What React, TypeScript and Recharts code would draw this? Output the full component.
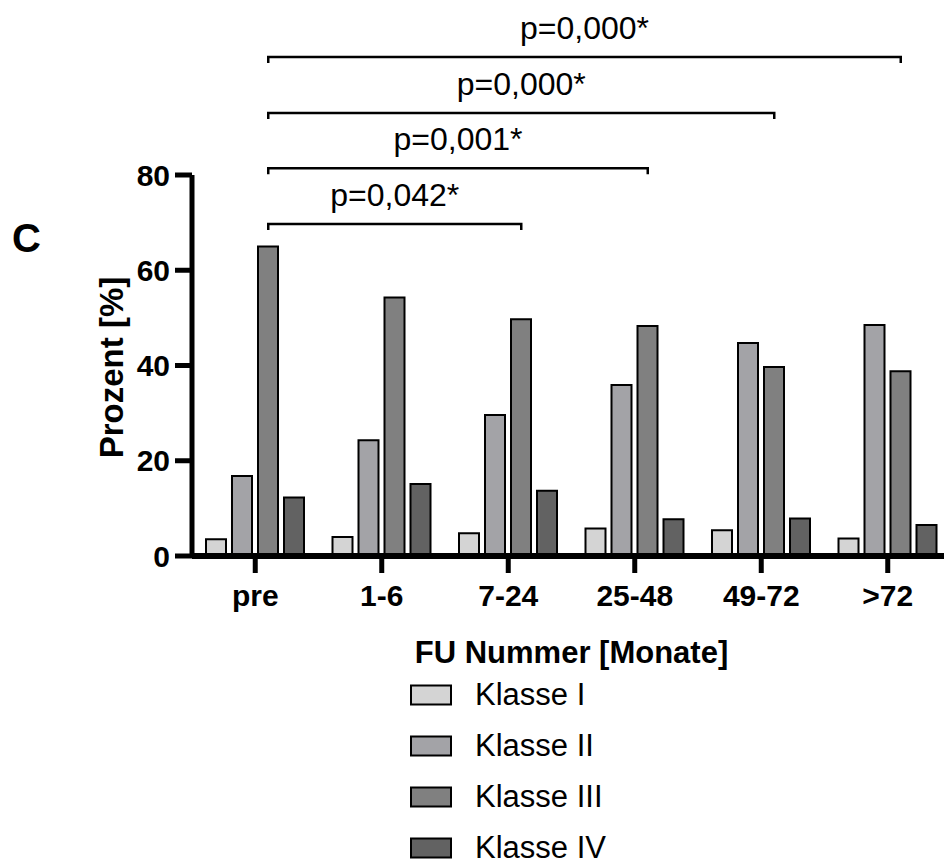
import React from 'react';
import { BarChart, Bar, XAxis, YAxis, Legend, ReferenceLine } from 'recharts';

const categories = ['pre', '1-6', '7-24', '25-48', '49-72', '>72'];
const klasseI = [3.5, 4.0, 4.8, 5.8, 5.4, 3.7];
const klasseII = [16.8, 24.3, 29.6, 35.9, 44.7, 48.5];
const klasseIII = [65.0, 54.3, 49.7, 48.3, 39.7, 38.8];
const klasseIV = [12.3, 15.1, 13.7, 7.7, 7.9, 6.5];
const yTicks = [0, 20, 40, 60, 80];

const seriesNames = ['Klasse I', 'Klasse II', 'Klasse III', 'Klasse IV'];
const seriesColors = ['#d4d4d4', '#a3a3a7', '#808080', '#626262'];

const compFrom = ['pre', 'pre', 'pre', 'pre'];
const compTo = ['7-24', '25-48', '49-72', '>72'];
const compLevel = [69.7, 81.4, 93.0, 104.8];
const compLabel = ['p=0,042*', 'p=0,001*', 'p=0,000*', 'p=0,000*'];

const data = categories.map((c, i) => ({
  cat: c,
  k1: klasseI[i],
  k2: klasseII[i],
  k3: klasseIII[i],
  k4: klasseIV[i],
}));
const keys = ['k1', 'k2', 'k3', 'k4'];

const FONT = '"Liberation Sans", Arial, Helvetica, sans-serif';
const BAR_SIZE = 20;
const BAR_GAP = 6;
// offset of Klasse III bar center from band center
const K3_OFFSET = (BAR_SIZE + BAR_GAP) / 2;

const Bracket = (props: any) => {
  const { x1, x2, y1, label } = props;
  const a = x1 + K3_OFFSET;
  const b = x2 + K3_OFFSET;
  return (
    <g>
      <path
        d={`M${a},${y1 + 6} L${a},${y1} L${b},${y1} L${b},${y1 + 6}`}
        fill="none"
        stroke="#000"
        strokeWidth={2.5}
      />
      <text
        x={(a + b) / 2}
        y={y1 - 18}
        textAnchor="middle"
        fontSize={32}
        fontFamily={FONT}
        fill="#000"
      >
        {label}
      </text>
    </g>
  );
};

const LegendContent = (props: any) => {
  const payload = props.payload || [];
  return (
    <svg width={330} height={195} style={{ overflow: 'visible', display: 'block' }}>
      {payload.map((p: any, i: number) => {
        const cy = 26 + i * 51;
        return (
          <g key={i}>
            <rect x={1} y={cy - 9.5} width={40} height={19} fill={p.color} stroke="#000" strokeWidth={2} />
            <text x={65} y={cy + 10} fontSize={31} fontFamily={FONT} fill="#000">
              {p.value}
            </text>
          </g>
        );
      })}
    </svg>
  );
};

const YLabel = (props: any) => {
  const { viewBox } = props;
  const cx = viewBox.x + 123;
  const cy = viewBox.y + viewBox.height / 2 + 2;
  return (
    <text
      x={cx}
      y={cy}
      transform={`rotate(-90, ${cx}, ${cy})`}
      textAnchor="middle"
      fontSize={33}
      fontWeight={700}
      fontFamily={FONT}
      fill="#000"
    >
      Prozent [%]
    </text>
  );
};

const XLabel = (props: any) => {
  const { viewBox } = props;
  return (
    <text
      x={viewBox.x + viewBox.width / 2}
      y={viewBox.y + 107}
      textAnchor="middle"
      fontSize={31}
      fontWeight={700}
      fontFamily={FONT}
      fill="#000"
    >
      FU Nummer [Monate]
    </text>
  );
};

export default function App() {
  return (
    <div
      style={{
        position: 'absolute',
        left: 0,
        top: 0,
        width: 944,
        height: 865,
        overflow: 'hidden',
        background: '#fff',
        fontFamily: FONT,
      }}
    >
      <BarChart
        width={951}
        height={865}
        data={data}
        margin={{ top: 175, right: 0, left: 0, bottom: 249 }}
        barSize={BAR_SIZE}
        barGap={BAR_GAP}
      >
        <XAxis
          dataKey="cat"
          interval={0}
          height={60}
          tickSize={17}
          tickMargin={12}
          axisLine={{ stroke: '#000', strokeWidth: 6 }}
          tickLine={{ stroke: '#000', strokeWidth: 5 }}
          tick={{ fill: '#000', fontSize: 30, fontWeight: 700, fontFamily: FONT }}
          label={<XLabel />}
        />
        <YAxis
          width={192}
          domain={[0, 80]}
          ticks={yTicks}
          allowDataOverflow
          tickSize={17}
          tickMargin={5}
          axisLine={{ stroke: '#000', strokeWidth: 5 }}
          tickLine={{ stroke: '#000', strokeWidth: 5 }}
          tick={{ fill: '#000', fontSize: 30, fontWeight: 700, fontFamily: FONT }}
          label={<YLabel />}
        />
        {keys.map((k, i) => (
          <Bar
            key={k}
            dataKey={k}
            name={seriesNames[i]}
            fill={seriesColors[i]}
            stroke="#000"
            strokeWidth={2}
            isAnimationActive={false}
          />
        ))}
        {compLabel.map((lab, i) => (
          <ReferenceLine
            key={i}
            segment={[
              { x: compFrom[i], y: compLevel[i] },
              { x: compTo[i], y: compLevel[i] },
            ]}
            ifOverflow="visible"
            shape={(p: any) => <Bracket {...p} label={lab} />}
          />
        ))}
        <Legend
          layout="vertical"
          align="center"
          verticalAlign="middle"
          wrapperStyle={{ left: 410, top: 669, width: 330, height: 195 }}
          content={<LegendContent />}
        />
      </BarChart>
      <svg
        width={944}
        height={865}
        style={{ position: 'absolute', left: 0, top: 0, pointerEvents: 'none' }}
      >
        <text x={12} y={252} fontSize={40} fontWeight={700} fontFamily={FONT} fill="#000">
          C
        </text>
      </svg>
    </div>
  );
}
